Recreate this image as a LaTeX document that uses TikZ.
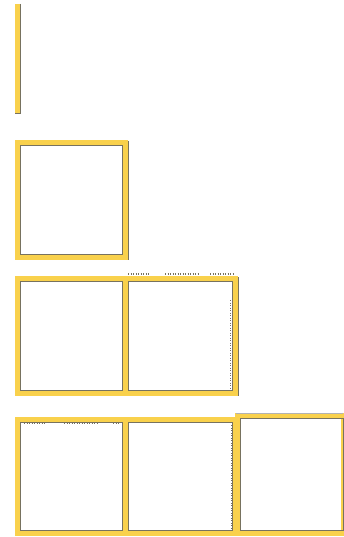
\documentclass[tikz,border=0pt]{standalone}
\definecolor{ybord}{HTML}{F9D14C}
\definecolor{ylight}{HTML}{FCE08A}
\definecolor{dshade}{HTML}{77725F}
\tikzset{
  yframe/.style={draw=ybord, line width=5pt},
  ishade/.style={draw=dshade, line width=0.6pt},
  ticks/.style={draw=dshade, line width=1.4pt, dash pattern=on 1pt off 1.5pt}
}
\begin{document}
\begin{tikzpicture}[x=1pt,y=-1pt]
\useasboundingbox (0,0) rectangle (343,537);
% row 1: bar
\fill[ybord] (15,4) rectangle (20,113);
\draw[ishade] (20.5,4) -- (20.5,113);
\draw[ishade] (15,113) -- (21,113);
% row 2: single frame
\draw[yframe] (17.5,142.5) rectangle (125.5,257.5);
\draw[ishade] (20.5,145.5) rectangle (122.5,254.5);
\draw[ishade] (128,141) -- (128,260);
% row 3: two frames
\draw[yframe] (17.5,278.5) rectangle (125.5,393.5);
\draw[ishade] (20.5,281.5) rectangle (122.5,390.5);
\draw[yframe] (125.5,278.5) rectangle (235.5,393.5);
\draw[ishade] (128.5,281.5) rectangle (232.5,390.5);
\draw[ishade] (238,277) -- (238,396);
\draw[ticks] (128,274) -- (150,274) (165,274) -- (200,274) (210,274) -- (234,274);
\draw[ticks] (230.5,300) -- (230.5,388);
% row 4: three frames
\draw[yframe] (17.5,419.5) rectangle (125.5,533.5);
\draw[ishade] (20.5,422.5) rectangle (122.5,530.5);
\draw[yframe] (125.5,419.5) rectangle (235.5,533.5);
\draw[ishade] (128.5,422.5) rectangle (232.5,530.5);
\draw[yframe] (237.5,415.5) rectangle (343,533.5);
\draw[ishade] (240.5,418.5) rectangle (343,530.5);
\draw[draw=gray!60, line width=0.6pt] (236,413) -- (343,413);
\draw[ticks] (24,423.5) -- (46,423.5) (64,423.5) -- (98,423.5) (113,423.5) -- (120,423.5);
\draw[ticks] (232,425) -- (232,528);
\end{tikzpicture}
\end{document}
